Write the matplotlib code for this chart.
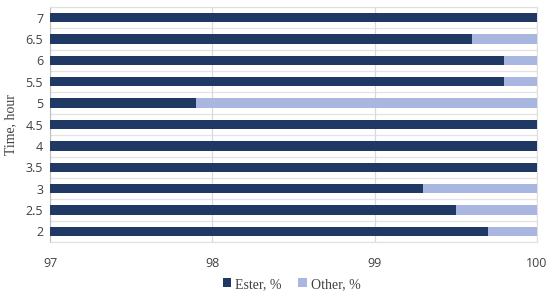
import matplotlib.pyplot as plt
import numpy as np

hours = ["2", "2.5", "3", "3.5", "4", "4.5", "5", "5.5", "6", "6.5", "7"]
ester = [99.7, 99.5, 99.3, 100, 100, 100, 97.9, 99.8, 99.8, 99.6, 100]
other = [100 - e for e in ester]

DARK = "#203864"
LIGHT = "#a9b7e0"

plt.rcParams["font.family"] = ["Open Sans", "DejaVu Sans"]
SERIF = ["Liberation Serif", "DejaVu Serif"]

fig = plt.figure(figsize=(5.5, 2.93), dpi=100)
ax = fig.add_axes([0.091, 0.174, 0.885, 0.802])

y = np.arange(len(hours))
ax.barh(y, ester, height=0.44, color=DARK, label="Ester, %", zorder=3)
ax.barh(y, other, left=ester, height=0.44, color=LIGHT, label="Other, %", zorder=3)

ax.set_xlim(97, 100)
ax.set_ylim(-0.5, len(hours) - 0.5)
ax.set_xticks([97, 98, 99, 100])
ax.set_yticks(y)
ax.set_yticklabels(hours)
ax.tick_params(length=0, labelsize=9, colors="#404040", pad=5)
ax.tick_params(axis="x", pad=11)

# vertical grid
ax.grid(axis="x", color="#d9d9d9", lw=0.9, zorder=0)
# horizontal lines between categories
for b in np.arange(-0.5, len(hours), 1):
    ax.axhline(b, color="#e3e3e3", lw=0.9, zorder=0)

for s in ["top", "right", "bottom"]:
    ax.spines[s].set_color("#e0e0e0")
ax.spines["left"].set_color("#bfbfbf")

ax.set_ylabel("Time, hour", family=SERIF, fontsize=10, color="#404040", labelpad=6)

leg = fig.legend(loc="lower center", bbox_to_anchor=(0.53, -0.035), ncol=2, frameon=False,
                 prop={"family": SERIF, "size": 10}, handlelength=0.6,
                 handleheight=0.6, columnspacing=1.2, handletextpad=0.3)
for t in leg.get_texts():
    t.set_color("#404040")

fig.savefig("out.png", dpi=100)
